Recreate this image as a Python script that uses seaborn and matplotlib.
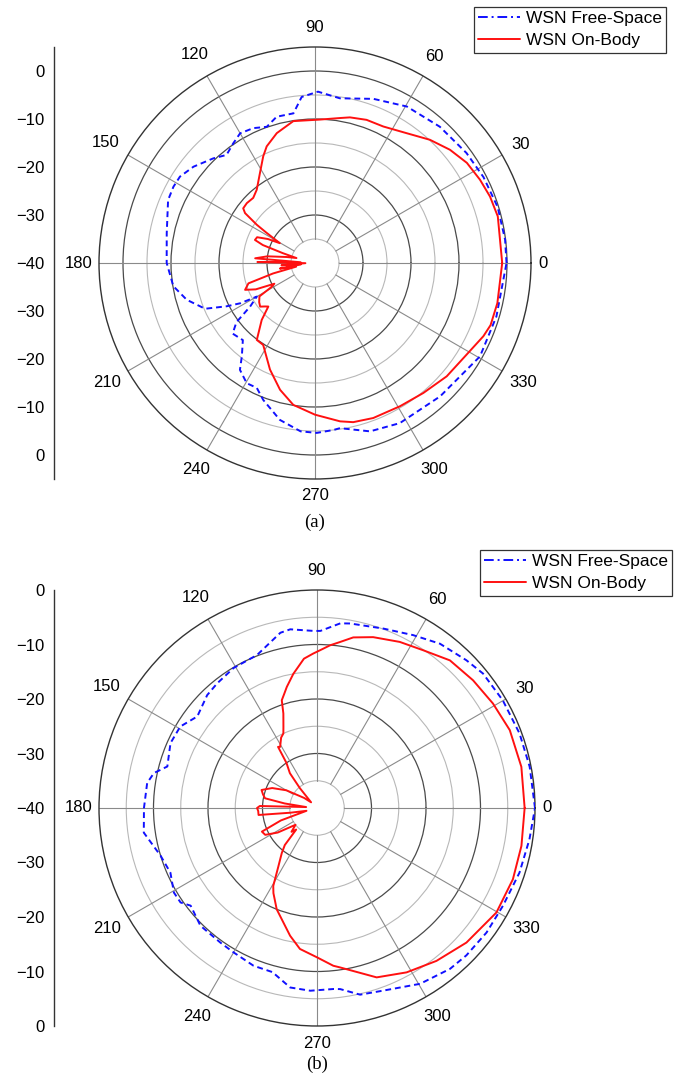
import numpy as np
import matplotlib
matplotlib.use("Agg")
import matplotlib.pyplot as plt
from matplotlib.lines import Line2D
import seaborn as sns

# ---------------- measured radiation patterns (angle in degrees, gain in dB) ----------------
# (a) free space
A_FS_ANG = [0, 7, 17, 27, 36, 47.5, 59.6, 70.4, 81.4, 89, 94.6, 98.2, 104.7, 109.5, 114.6,
            120, 124.3, 129.3, 134.2, 141.6, 147.4, 151.7, 156.8, 168.7, 180, 189.3, 196,
            202.6, 206.1, 208.3, 210, 213.9, 217, 220.6, 226.9, 231.9, 234.9, 240.4, 245,
            249.3, 257.4, 265.1, 270.6, 276.3, 278.6, 288.1, 297.9, 313.2, 330.5, 343.6, 360]
A_FS_DB = [-0.1, -0.1, -0.2, -0.6, -1.0, -1.5, -2.2, -3.7, -5.3, -4.3, -5.3, -8.5, -8.5, -9.9,
           -9.1, -8.8, -9.8, -10.9, -9.6, -7.7, -6.6, -6.5, -6.7, -8.5, -9.1, -10.1, -12.2,
           -15.2, -19.5, -22.3, -26.0, -23.7, -19.5, -17.4, -18.0, -15.3, -12.8, -11.2, -11.3,
           -9.5, -6.5, -4.8, -4.6, -5.0, -5.2, -3.1, -2.25, -1.9, -0.5, -0.6, -0.1]

# (a) on body
A_OB_ANG = [0, 14.3, 20.8, 26.8, 33.4, 40, 47, 54.8, 63.4, 70.2, 76.5, 80.2, 88, 98.7, 106.4,
            112.5, 115.9, 121.4, 128.5, 133.5, 138.7, 142.7, 144.5, 146.7, 148, 150.6, 153,
            156, 159, 161, 163, 165, 168, 172, 175.5, 177, 179, 181, 184, 186, 189, 191, 194,
            197, 201, 204, 207, 209, 211, 215, 218.5, 221, 223, 226.9, 232.9, 237.7, 247.1,
            254.6, 261.3, 270, 279, 283.5, 290.6, 300.7, 309.8, 319.3, 329.6, 336.5, 340.5,
            347.6, 360]
A_OB_DB = [-1.0, -0.7, -1.0, -1.5, -2.1, -3.3, -4.9, -6.9, -8.2, -8.3, -8.8, -9.35, -10.1,
           -10.1, -11.8, -13.7, -15.3, -18.0, -20.5, -21.3, -21.1, -21.2, -22.1, -25.5, -28.0,
           -31.6, -29.0, -26.8, -26.6, -28.5, -33.0, -36.0, -34.0, -30.0, -27.5, -37.0, -28.0,
           -38.0, -33.0, -37.0, -32.6, -36.0, -31.0, -25.5, -24.4, -26.5, -30.5, -29.5, -26.5,
           -25.8, -25.4, -26.2, -26.7, -23.75, -19.9, -19.8, -15.9, -12.6, -10.1, -8.4, -6.6,
           -5.9, -5.5, -5.3, -4.75, -3.8, -3.0, -1.75, -1.2, -1.1, -1.0]

# (b) free space
B_FS_ANG = [0, 11, 20.2, 30.1, 39, 44.7, 53.2, 60.9, 69.7, 79.8, 82.8, 88.9, 91.1, 98.5, 101.8,
            111.4, 120.8, 128.7, 134.2, 142.6, 149.2, 156.1, 164.5, 167.9, 171.6, 180, 188.1,
            197, 203.8, 210.6, 214.7, 217.7, 225.3, 234.3, 240, 248.1, 254.8, 261.5, 267.9,
            275.2, 277.3, 283, 290, 300.4, 309.6, 315.4, 323.7, 332.3, 342.3, 351.6, 360]
B_FS_DB = [0.0, -0.25, -0.4, -0.6, -0.8, -1.45, -2.35, -3.7, -4.9, -5.6, -5.85, -7.5, -7.5,
           -6.85, -7.15, -9.85, -10.1, -10.7, -11.1, -12.35, -10.8, -10.6, -11.5, -9.4, -8.5,
           -8.25, -7.9, -10.0, -10.6, -9.5, -9.55, -10.7, -9.6, -9.6, -9.4, -8.8, -8.8, -6.7,
           -6.45, -6.65, -6.5, -4.85, -4.35, -2.6, -1.7, -1.5, -1.4, -1.45, -1.0, -0.6, 0.0]

# (b) on body
B_OB_ANG = [0, 11.4, 22, 30.7, 39.3, 48, 56, 63.5, 71.8, 78, 82.1, 85.4, 88.9, 91.4, 95, 100,
            104, 106, 108.1, 109.6, 112.5, 114.3, 117, 121.1, 122.5, 124.1, 127.9, 130.8, 136,
            142, 150, 156, 162, 166, 169.4, 172, 175, 178, 180, 183, 186.8, 190, 195, 199,
            203.2, 207.4, 212, 218, 223, 226, 229, 232, 236.6, 240.7, 242.9, 248.3, 258.1,
            263.1, 270, 275.9, 278.2, 289.4, 298.6, 308, 318, 329.8, 340, 349.5, 360]
B_OB_DB = [-1.9, -1.75, -1.85, -2.45, -3.0, -3.55, -5.1, -5.95, -7.0, -8.0, -9.25, -10.05,
           -11.05, -11.65, -12.5, -15.0, -17.1, -18.2, -19.2, -21.6, -23.9, -25.0, -25.5,
           -26.9, -26.7, -30.0, -31.9, -35.2, -38.5, -37.0, -33.5, -31.0, -29.3, -29.8, -30.3,
           -34.0, -38.0, -29.5, -29.0, -29.2, -29.2, -35.0, -38.0, -33.0, -29.0, -29.3, -31.5,
           -35.0, -33.6, -34.5, -31.0, -29.5, -27.1, -23.6, -22.45, -20.0, -16.05, -13.95,
           -12.6, -10.9, -10.45, -7.05, -5.65, -4.4, -3.1, -1.9, -1.75, -1.85, -1.9]

SERIES_LABELS = ["WSN Free-Space", "WSN On-Body"]
ANGLE_TICKS = list(range(0, 360, 30))
PANEL_LABELS = ["(a)", "(b)"]

# ---------------- styling ----------------
sns.set_theme(style="white")
plt.rcParams["font.family"] = ["Liberation Sans", "DejaVu Sans"]
plt.rcParams["text.color"] = "black"
plt.rcParams["axes.labelcolor"] = "black"
plt.rcParams["xtick.color"] = "black"
plt.rcParams["ytick.color"] = "black"

BLUE = "#1010ff"
RED = "#ff1010"
DARK_GRID = "#4a4a4a"
LIGHT_GRID = "#b8b8b8"
SPOKE = "#8a8a8a"
EDGE = "#333333"
TICK_FS = 12

W, H = 678, 1076
fig = plt.figure(figsize=(W / 100, H / 100), dpi=100)


def px_box(left, top, width, height):
    return [left / W, 1 - (top + height) / H, width / W, height / H]


def polar_panel(cx, cy, R, rmax, fs_ang, fs_db, ob_ang, ob_db, legend_right, legend_top):
    ax = fig.add_axes(px_box(cx - R, cy - R, 2 * R, 2 * R), projection="polar")
    ax.set_facecolor("white")
    ax.set_theta_zero_location("E")
    ax.set_theta_direction(1)

    # radial grid: dark every 10 dB, light in between
    major_r = [r for r in range(-30, rmax + 1, 10) if r < rmax]
    minor_r = [r for r in range(-35, rmax, 10)]
    ax.set_yticks(major_r)
    ax.set_yticks(minor_r, minor=True)
    ax.set_yticklabels([])
    ax.set_yticklabels([], minor=True)
    ax.tick_params(axis="y", which="both", length=0)
    ax.yaxis.grid(True, which="major", color=DARK_GRID, lw=0.9)
    ax.yaxis.grid(True, which="minor", color=LIGHT_GRID, lw=0.8)
    ax.xaxis.grid(False)

    # angular ticks: spokes every 30 deg, small inward ticks every 15 deg
    ax.set_xticks(np.deg2rad(ANGLE_TICKS))
    ax.set_xticklabels([])
    ax.set_xticks(np.deg2rad(np.arange(15, 360, 30)), minor=True)
    ax.tick_params(axis="x", which="major", length=0)
    ax.tick_params(axis="x", which="minor", length=4, width=0.9,
                   direction="in", color=EDGE)
    for a in ANGLE_TICKS:
        t = np.deg2rad(a)
        ax.plot([t, t], [-35, rmax], color=SPOKE, lw=0.8, zorder=1)

    sns.lineplot(x=np.deg2rad(fs_ang), y=fs_db, ax=ax, sort=False, estimator=None,
                 color=BLUE, lw=1.4, linestyle=(0, (3, 2)), zorder=3)
    sns.lineplot(x=np.deg2rad(ob_ang), y=ob_db, ax=ax, sort=False, estimator=None,
                 color=RED, lw=1.4, zorder=4)

    ax.set_ylim(-40, rmax)
    ax.spines["polar"].set_color(EDGE)
    ax.spines["polar"].set_linewidth(1.0)

    # angle labels outside the rim
    for a in ANGLE_TICKS:
        t = np.deg2rad(a)
        c, s = np.cos(t), np.sin(t)
        w = 9.2 * len(str(a))
        off = 7 + 0.5 * abs(c) * w + (13 if s >= 0 else 10) * abs(s)
        ax.annotate(str(a), xy=(t, rmax), xytext=(off * c, off * s),
                    textcoords="offset pixels", ha="center", va="center",
                    fontsize=TICK_FS, annotation_clip=False)

    handles = [Line2D([], [], color=BLUE, lw=1.4, linestyle=(0, (5, 2, 1, 2))),
               Line2D([], [], color=RED, lw=1.4)]
    leg = ax.legend(handles, SERIES_LABELS, loc="upper right",
                    bbox_to_anchor=(legend_right / W, 1 - legend_top / H),
                    bbox_transform=fig.transFigure, fontsize=12.5, frameon=True,
                    fancybox=False, framealpha=1, borderpad=0.25, labelspacing=0.38,
                    handlelength=2.4, handletextpad=0.35, borderaxespad=0)
    leg.get_frame().set_edgecolor(EDGE)
    leg.get_frame().set_linewidth(0.9)
    return ax


def side_scale(x, cy, R, rmax):
    """Mirrored dB scale drawn beside a polar panel."""
    span = rmax + 40
    axl = fig.add_axes(px_box(x, cy - R, 0.5, 2 * R))
    axl.set_ylim(-span, span)
    axl.set_xticks([])
    for side in ("top", "right", "bottom"):
        axl.spines[side].set_visible(False)
    axl.spines["left"].set_color(EDGE)
    axl.spines["left"].set_linewidth(1.0)
    major = np.arange(-40, 41, 10)
    minor = [p for p in np.arange(-span, span + 1, 5) if p % 10 != 0]
    axl.set_yticks(major)
    axl.set_yticklabels([f"{-40 + abs(p):d}".replace("-", "\u2212") for p in major])
    axl.set_yticks(minor, minor=True)
    axl.tick_params(axis="y", which="major", length=5, width=0.9, color=EDGE,
                    direction="out", labelsize=TICK_FS, pad=2)
    axl.tick_params(axis="y", which="minor", length=2.6, width=0.9, color=EDGE,
                    direction="out")
    axl.set_facecolor("none")
    return axl


# panel (a): rim at +5 dB
polar_panel(315, 263, 216, 5, A_FS_ANG, A_FS_DB, A_OB_ANG, A_OB_DB, 666, 7)
side_scale(54, 263, 216, 5)
fig.text(315 / W, 1 - 522 / H, PANEL_LABELS[0], ha="center", va="center",
         fontsize=13.5, family=["Liberation Serif", "DejaVu Serif"])

# panel (b): rim at 0 dB
polar_panel(317, 808, 218, 0, B_FS_ANG, B_FS_DB, B_OB_ANG, B_OB_DB, 672, 550)
side_scale(54, 808, 218, 0)
fig.text(317 / W, 1 - 1064 / H, PANEL_LABELS[1], ha="center", va="center",
         fontsize=13.5, family=["Liberation Serif", "DejaVu Serif"])

fig.savefig("out.png", dpi=100, facecolor="white")
